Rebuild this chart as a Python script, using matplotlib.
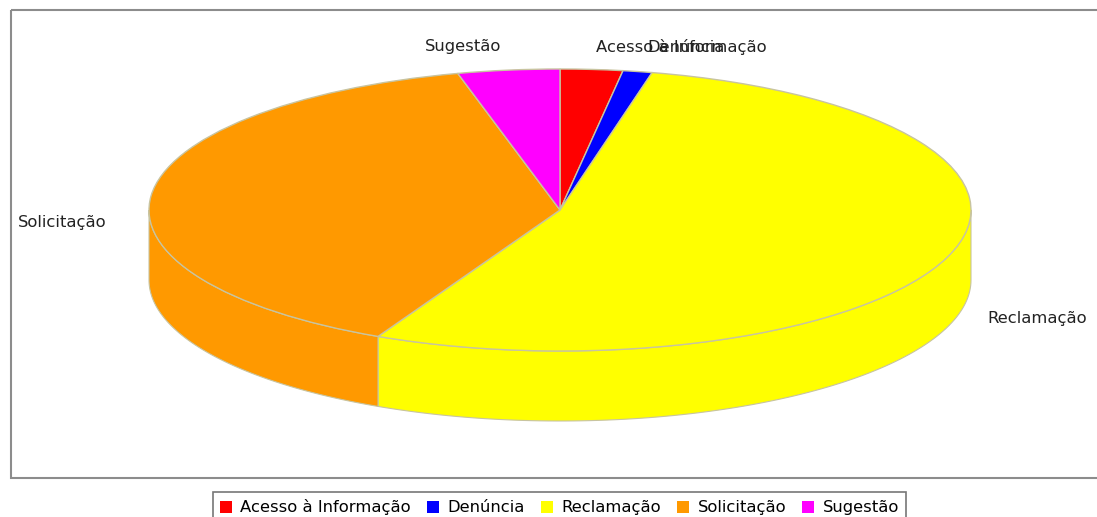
import numpy as np
import matplotlib
matplotlib.use('Agg')
import matplotlib.pyplot as plt
from matplotlib.patches import Polygon, Rectangle

# Share of each category
categories = ['Acesso à Informação', 'Denúncia', 'Reclamação', 'Solicitação', 'Sugestão']
values = [2.45, 1.15, 53.7, 38.7, 4.0]
colors = ['#ff0000', '#0000ff', '#ffff00', '#ff9900', '#ff00ff']

W, H = 1097, 517
cx, cy, rx, ry = 560, 210, 411, 141
depth = 70
edge = '#c8c4a0'
font = 'DejaVu Sans'

fig = plt.figure(figsize=(W / 100, H / 100), dpi=100, facecolor='white')

# Overlay in pixel coordinates for the frame and the slice labels
bg = fig.add_axes([0, 0, 1, 1])
bg.set_xlim(0, W)
bg.set_ylim(H, 0)
bg.axis('off')
bg.add_patch(Rectangle((11, 10), W + 20, 468, fill=False, edgecolor='#8c8c8c', linewidth=1.5))

# The title sits almost entirely above the crop and can't be read, so it is left out
label_pos = {
    'Acesso à Informação': (596, 47),
    'Denúncia': (647, 47),
    'Reclamação': (987, 319),
    'Solicitação': (18, 222),
    'Sugestão': (425, 47),
}
for name, (x, y) in label_pos.items():
    bg.text(x, y, name, fontsize=11.8, family=font, color='#222222', ha='left', va='center')

# Pie axes: the unit circle is stretched into the ellipse of the top face
ax = fig.add_axes([(cx - rx) / W, 1 - (cy + ry) / H, 2 * rx / W, 2 * ry / H])
ax.patch.set_alpha(0)
wedges, _ = ax.pie(values, colors=colors, startangle=90, counterclock=False, radius=1,
                   wedgeprops=dict(edgecolor=edge, linewidth=1, zorder=3))
ax.set_aspect('auto')
ax.set_xlim(-1, 1)
ax.set_ylim(-1, 1)

# Side wall of the disc, only the part facing down is visible
drop = depth / ry
ends = 90 - np.cumsum(values) / np.sum(values) * 360
starts = np.r_[90, ends[:-1]]
for a0, a1, c in zip(starts, ends, colors):
    hi, lo = min(a0, 0), max(a1, -180)
    if hi <= lo:
        continue
    t = np.radians(np.linspace(hi, lo, 100))
    top = np.c_[np.cos(t), np.sin(t)]
    bottom = (top - [0, drop])[::-1]
    ax.add_patch(Polygon(np.r_[top, bottom], closed=True, facecolor=c, edgecolor=edge,
                         linewidth=0.8, clip_on=False, zorder=1))

leg = fig.legend(wedges, categories, ncol=5, loc='upper center',
                 bbox_to_anchor=(559.5 / W, 1 - 492 / H), fancybox=False, framealpha=1,
                 edgecolor='#777777', handlelength=0.73, handleheight=0.73,
                 handletextpad=0.5, columnspacing=1.0, borderaxespad=0, borderpad=0.45,
                 prop=dict(family=font, size=11.8))
leg.get_frame().set_linewidth(1.2)
for h in leg.legend_handles:
    h.set_edgecolor('none')

fig.savefig('out.png', dpi=100)
